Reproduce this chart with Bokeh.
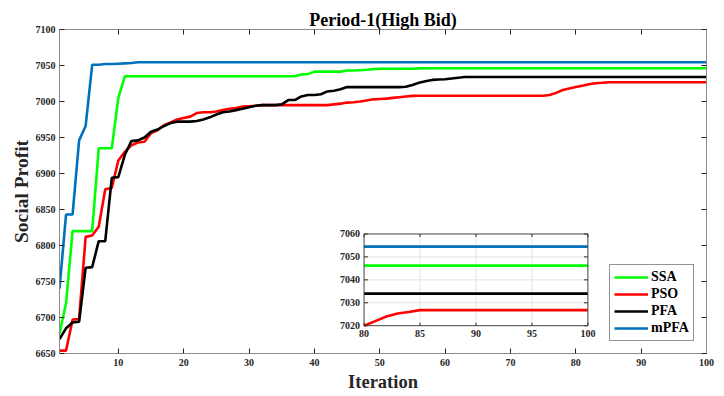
from bokeh.plotting import figure
from bokeh.models import (Range1d, LinearAxis, FixedTicker, Legend, LegendItem)
from bokeh.core.properties import value
from bokeh.embed import file_html
from bokeh.resources import INLINE

# ---------------- data ----------------
iterations = list(range(1, 101))

ssa = [6677, 6720, 6820, 6820, 6820, 6820, 6935, 6935, 6935, 7005,
       7035, 7035, 7035, 7035, 7035, 7035, 7035, 7035, 7035, 7035,
       7035, 7035, 7035, 7035, 7035, 7035, 7035, 7035, 7035, 7035,
       7035, 7035, 7035, 7035, 7035, 7035, 7035, 7037.5, 7038, 7041.5,
       7041.5, 7041.5, 7041.5, 7041.5, 7043, 7043, 7043.5, 7044, 7045, 7045.5,
       7045.5, 7045.5, 7045.5, 7045.5, 7045.5, 7046, 7046.2, 7046.2, 7046.2, 7046.2,
       7046.2, 7046.2, 7046.2, 7046.2, 7046.2, 7046.2, 7046.2, 7046.2, 7046.2, 7046.2,
       7046.2, 7046.2, 7046.2, 7046.2, 7046.2, 7046.2, 7046.2, 7046.2, 7046.2, 7046.2,
       7046.2, 7046.2, 7046.2, 7046.2, 7046.2, 7046.2, 7046.2, 7046.2, 7046.2, 7046.2,
       7046.2, 7046.2, 7046.2, 7046.2, 7046.2, 7046.2, 7046.2, 7046.2, 7046.2, 7046.2]

pso = [6654, 6654, 6697, 6698, 6812, 6814, 6826, 6878, 6880, 6918,
       6930, 6939, 6943, 6944, 6956, 6960, 6967, 6971, 6975, 6977,
       6979, 6984, 6985, 6985, 6986, 6988, 6990, 6991, 6993, 6993.5,
       6994, 6995, 6995, 6995, 6995, 6995, 6995, 6995, 6995, 6995,
       6995, 6995, 6996, 6997, 6998.5, 6999, 7000, 7001.5, 7003, 7003.5,
       7004, 7005, 7006, 7007, 7007.8, 7008, 7008, 7008, 7008, 7008,
       7008, 7008, 7008, 7008, 7008, 7008, 7008, 7008, 7008, 7008,
       7008, 7008, 7008, 7008, 7008, 7009, 7012, 7016, 7018, 7020,
       7022, 7024, 7025.3, 7026, 7026.8, 7026.8, 7026.8, 7026.8, 7026.8, 7026.8,
       7026.8, 7026.8, 7026.8, 7026.8, 7026.8, 7026.8, 7026.8, 7026.8, 7026.8, 7026.8]

pfa = [6670, 6685, 6693, 6694, 6769, 6770, 6806, 6806, 6894, 6895,
       6926, 6945, 6946, 6950, 6958, 6961, 6966, 6970, 6972, 6972,
       6972, 6973, 6975, 6978, 6982, 6985, 6986, 6988, 6990, 6992,
       6994, 6995, 6995, 6995, 6996, 7002, 7002, 7007, 7009, 7009,
       7010, 7014, 7015, 7017, 7020, 7020, 7020, 7020, 7020, 7020,
       7020, 7020, 7020, 7020.5, 7023, 7026, 7028, 7030, 7030.5, 7031,
       7032, 7033, 7034, 7034, 7034, 7034, 7034, 7034, 7034, 7034,
       7034, 7034, 7034, 7034, 7034, 7034, 7034, 7034, 7034, 7034,
       7034, 7034, 7034, 7034, 7034, 7034, 7034, 7034, 7034, 7034,
       7034, 7034, 7034, 7034, 7034, 7034, 7034, 7034, 7034, 7034]

mpfa = [6740, 6843, 6843, 6946, 6966, 7051, 7051, 7052, 7052, 7052.5,
        7053, 7053.5, 7054.5, 7054.5, 7054.5, 7054.5, 7054.5, 7054.5, 7054.5, 7054.5,
        7054.5, 7054.5, 7054.5, 7054.5, 7054.5, 7054.5, 7054.5, 7054.5, 7054.5, 7054.5,
        7054.5, 7054.5, 7054.5, 7054.5, 7054.5, 7054.5, 7054.5, 7054.5, 7054.5, 7054.5,
        7054.5, 7054.5, 7054.5, 7054.5, 7054.5, 7054.5, 7054.5, 7054.5, 7054.5, 7054.5,
        7054.5, 7054.5, 7054.5, 7054.5, 7054.5, 7054.5, 7054.5, 7054.5, 7054.5, 7054.5,
        7054.5, 7054.5, 7054.5, 7054.5, 7054.5, 7054.5, 7054.5, 7054.5, 7054.5, 7054.5,
        7054.5, 7054.5, 7054.5, 7054.5, 7054.5, 7054.5, 7054.5, 7054.5, 7054.5, 7054.5,
        7054.5, 7054.5, 7054.5, 7054.5, 7054.5, 7054.5, 7054.5, 7054.5, 7054.5, 7054.5,
        7054.5, 7054.5, 7054.5, 7054.5, 7054.5, 7054.5, 7054.5, 7054.5, 7054.5, 7054.5]

series_names = ["SSA", "PSO", "PFA", "mPFA"]
x_ticks = [10, 20, 30, 40, 50, 60, 70, 80, 90, 100]
y_ticks = [6650, 6700, 6750, 6800, 6850, 6900, 6950, 7000, 7050, 7100]
inset_x_ticks = [80, 85, 90, 95, 100]
inset_y_ticks = [7020, 7030, 7040, 7050, 7060]

# ---------------- styles ----------------
FONT = "Liberation Serif"
colors = {"SSA": "#00FF00", "PSO": "#FF0000", "PFA": "#000000", "mPFA": "#0072BD"}
LW = 2.6
AX = "#8c8c8c"
TK = "#262626"

p = figure(width=716, height=394, x_range=Range1d(1, 100), y_range=Range1d(6650, 7100),
           output_backend="svg", toolbar_location=None,
           min_border_left=59, min_border_right=10, min_border_top=29, min_border_bottom=40,
           title="Period-1(High Bid)")
p.title.align = "center"
p.title.text_font = FONT
p.title.text_font_size = "18px"
p.title.text_font_style = "bold"
p.title.text_color = "#000000"
p.title.standoff = 0
p.title.offset = 0

p.xgrid.visible = False
p.ygrid.visible = False
p.outline_line_color = AX
p.background_fill_color = "white"
p.border_fill_color = "white"

xax = p.below[0]
yax = p.left[0]
xax.ticker = FixedTicker(ticks=x_ticks)
yax.ticker = FixedTicker(ticks=y_ticks)

top_ax = LinearAxis(ticker=FixedTicker(ticks=x_ticks),
                    major_label_overrides={t: "" for t in x_ticks})
right_ax = LinearAxis(ticker=FixedTicker(ticks=y_ticks),
                      major_label_overrides={t: "" for t in y_ticks})
p.add_layout(top_ax, "above")
p.add_layout(right_ax, "right")

for ax in [xax, yax, top_ax, right_ax]:
    ax.axis_line_color = AX
    ax.major_tick_line_color = TK
    ax.major_tick_in = 5
    ax.major_tick_out = 0
    ax.minor_tick_line_color = None
    ax.major_label_text_font = FONT
    ax.major_label_text_font_style = "bold"
    ax.major_label_text_color = TK
for ax in [top_ax, right_ax]:
    ax.major_label_standoff = 0
    ax.major_label_text_font_size = "1px"

xax.major_label_text_font_size = "10px"
yax.major_label_text_font_size = "10px"
xax.major_label_standoff = 5
yax.major_label_standoff = 4
xax.axis_label = "Iteration"
yax.axis_label = "Social Profit"
for ax in [xax, yax]:
    ax.axis_label_text_font = FONT
    ax.axis_label_text_font_style = "bold"
    ax.axis_label_text_color = TK
xax.axis_label_text_font_size = "18.5px"
yax.axis_label_text_font_size = "19.5px"
xax.axis_label_standoff = 3
yax.axis_label_standoff = 1

# ---------------- main lines ----------------
data = {"SSA": ssa, "PSO": pso, "PFA": pfa, "mPFA": mpfa}
renderers = {}
for name in series_names:
    renderers[name] = p.line(iterations, data[name], line_color=colors[name], line_width=LW)

# ---------------- inset ----------------
sub = p.subplot(x_source=Range1d(80, 100), y_source=Range1d(7020, 7060),
                x_target=Range1d(47.6, 81.85), y_target=Range1d(6688.6, 6816.0))

sub.quad(left=[inset_x_ticks[0]], right=[inset_x_ticks[-1]], bottom=[inset_y_ticks[0]],
         top=[inset_y_ticks[-1]], fill_color="white", line_color=None)
sub.segment(x0=inset_x_ticks[1:-1], x1=inset_x_ticks[1:-1],
            y0=[inset_y_ticks[0]] * 3, y1=[inset_y_ticks[-1]] * 3,
            line_color="#e3e3e3", line_width=1)
sub.segment(x0=[inset_x_ticks[0]] * 3, x1=[inset_x_ticks[-1]] * 3,
            y0=inset_y_ticks[1:-1], y1=inset_y_ticks[1:-1],
            line_color="#e3e3e3", line_width=1)

i0 = iterations.index(80)
for name in series_names:
    sub.line(iterations[i0:], data[name][i0:], line_color=colors[name], line_width=LW)

sub.segment(x0=[inset_x_ticks[0]] * 5, x1=[inset_x_ticks[0] + 0.35] * 5,
            y0=inset_y_ticks, y1=inset_y_ticks, line_color=TK, line_width=1)
sub.segment(x0=[inset_x_ticks[-1]] * 5, x1=[inset_x_ticks[-1] - 0.35] * 5,
            y0=inset_y_ticks, y1=inset_y_ticks, line_color=TK, line_width=1)
sub.segment(x0=inset_x_ticks, x1=inset_x_ticks,
            y0=[inset_y_ticks[0]] * 5, y1=[inset_y_ticks[0] + 1.3] * 5,
            line_color=TK, line_width=1)
sub.segment(x0=inset_x_ticks, x1=inset_x_ticks,
            y0=[inset_y_ticks[-1]] * 5, y1=[inset_y_ticks[-1] - 1.3] * 5,
            line_color=TK, line_width=1)
sub.quad(left=[inset_x_ticks[0]], right=[inset_x_ticks[-1]], bottom=[inset_y_ticks[0]],
         top=[inset_y_ticks[-1]], fill_color=None, line_color="#404040", line_width=1)

sub.text(x=[inset_x_ticks[0]] * 5, y=inset_y_ticks, text=[str(v) for v in inset_y_ticks],
         x_offset=-4, text_align="right", text_baseline="middle",
         text_font=value(FONT), text_font_style="bold", text_font_size="10px",
         text_color=TK)
sub.text(x=inset_x_ticks, y=[inset_y_ticks[0]] * 5, text=[str(v) for v in inset_x_ticks],
         y_offset=4, text_align="center", text_baseline="top",
         text_font=value(FONT), text_font_style="bold", text_font_size="10px",
         text_color=TK)

# ---------------- legend ----------------
legend = Legend(items=[LegendItem(label=n, renderers=[renderers[n]]) for n in series_names],
                location=(550, 12))
legend.label_text_font = FONT
legend.label_text_font_style = "bold"
legend.label_text_font_size = "14px"
legend.label_text_color = "#000000"
legend.glyph_width = 34
legend.glyph_height = 16
legend.label_height = 16
legend.label_standoff = 3
legend.spacing = 1
legend.padding = 4
legend.margin = 0
legend.border_line_color = TK
legend.border_line_width = 1
legend.background_fill_color = "white"
legend.background_fill_alpha = 1
p.add_layout(legend, "center")

open("out.html", "w").write(file_html(p, INLINE))
